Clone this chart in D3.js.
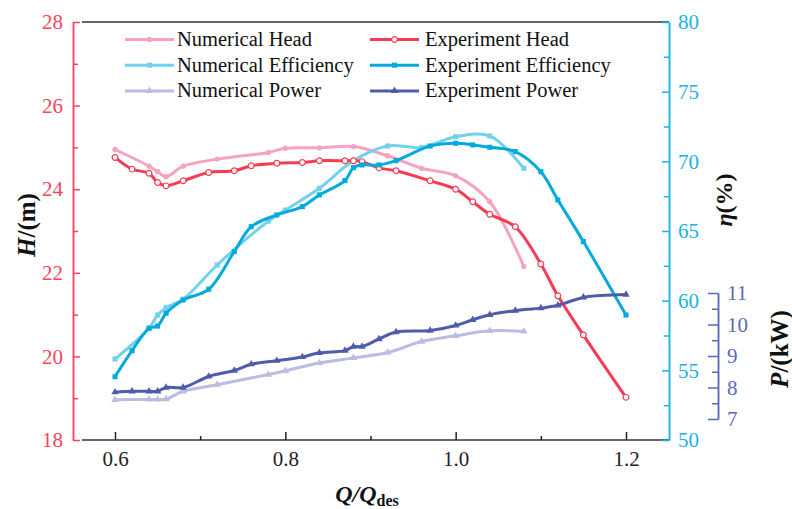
<!DOCTYPE html>
<html>
<head>
<meta charset="utf-8">
<script src="https://cdn.jsdelivr.net/npm/d3@7"></script>
<style>
  body { margin: 0; background: #fff; }
</style>
</head>
<body>
<svg id="chart" width="792" height="509"></svg>
<script>
// flow ratios
const qNum = [0.60, 0.64, 0.65, 0.66, 0.68, 0.72, 0.78, 0.80, 0.84, 0.88, 0.92, 0.96, 1.00, 1.04, 1.08]
const qExp = [0.60, 0.62, 0.64, 0.65, 0.66, 0.68, 0.71, 0.74, 0.76, 0.79, 0.82, 0.84, 0.87, 0.88, 0.89, 0.91, 0.93, 0.97, 1.00, 1.02, 1.04, 1.07, 1.10, 1.12, 1.15, 1.20]

// head (m)
const numHead = [24.95, 24.55, 24.42, 24.30, 24.55, 24.72, 24.88, 24.98, 24.99, 25.02, 24.80, 24.50, 24.32, 23.70, 22.15]
const expHead = [24.76, 24.48, 24.38, 24.16, 24.08, 24.20, 24.40, 24.44, 24.56, 24.62, 24.64, 24.68, 24.68, 24.68, 24.66, 24.51, 24.44, 24.20, 24.00, 23.70, 23.40, 23.10, 22.21, 21.45, 20.51, 19.02]

// efficiency (%)
const numEff = [55.81, 58.02, 58.97, 59.50, 60.10, 62.56, 65.70, 66.50, 68.07, 70.05, 71.10, 71.00, 71.77, 71.82, 69.50]
const expEff = [54.54, 56.41, 58.02, 58.18, 59.10, 60.05, 60.82, 63.52, 65.31, 66.15, 66.75, 67.59, 68.62, 69.55, 69.74, 69.74, 70.05, 71.10, 71.30, 71.18, 71.01, 70.70, 69.26, 67.23, 64.24, 58.97]

// power (kW)
const numPower = [7.61, 7.62, 7.62, 7.63, 7.88, 8.09, 8.41, 8.53, 8.78, 8.94, 9.11, 9.46, 9.64, 9.80, 9.78]
const expPower = [7.85, 7.88, 7.88, 7.88, 8.00, 8.00, 8.35, 8.54, 8.74, 8.85, 8.97, 9.10, 9.17, 9.30, 9.30, 9.54, 9.76, 9.81, 9.97, 10.15, 10.31, 10.44, 10.52, 10.61, 10.86, 10.95]

const xTicks = [0.6, 0.8, 1.0, 1.2]
const xMinor = [0.7, 0.9, 1.1]
const hTicks = [18, 20, 22, 24, 26, 28]
const hMinor = [19, 21, 23, 25, 27]
const effTicks = [50, 55, 60, 65, 70, 75, 80]
const effMinor = [52.5, 57.5, 62.5, 67.5, 72.5, 77.5]
const pTicks = [7, 8, 9, 10, 11]
const pMinor = [7.5, 8.5, 9.5, 10.5]

const RED = '#f5455c', CYAN = '#17b2e6', NAVY = '#5a69bd'
const SERIF = '"Liberation Serif", "Times New Roman", serif'

const svg = d3.select('#chart').attr('font-family', SERIF)

const frameLeft = 82, frameRight = 669, plotTop = 22, plotBottom = 440
const x = d3.scaleLinear().domain([0.6, 1.2]).range([115, 626])
const yH = d3.scaleLinear().domain([18, 28]).range([plotBottom, plotTop])
const yE = d3.scaleLinear().domain([50, 80]).range([plotBottom, plotTop])
const yP = d3.scaleLinear().domain([7, 11]).range([419, 293])

// frame lines
svg.append('line').attr('x1', frameLeft).attr('x2', frameRight).attr('y1', plotTop).attr('y2', plotTop)
  .attr('stroke', '#333').attr('stroke-width', 1.5)
svg.append('line').attr('x1', frameLeft).attr('x2', frameRight).attr('y1', plotBottom).attr('y2', plotBottom)
  .attr('stroke', '#333').attr('stroke-width', 1.5)

function styleAxis(g, color, size) {
  g.attr('font-family', SERIF)
  g.selectAll('path, line').attr('stroke', color).attr('stroke-width', 1.5)
  g.selectAll('text').attr('fill', color).style('font-size', size + 'px').style('font-family', SERIF)
}

// bottom axis
const gx = svg.append('g').attr('transform', `translate(0,${plotBottom})`)
  .call(d3.axisBottom(x).tickValues(xTicks).tickFormat(d3.format('.1f')).tickSize(-8).tickSizeOuter(0).tickPadding(11))
gx.select('.domain').remove()
styleAxis(gx, '#222', 21)
const gxm = svg.append('g').attr('transform', `translate(0,${plotBottom})`)
  .call(d3.axisBottom(x).tickValues(xMinor).tickFormat('').tickSize(-4))
gxm.select('.domain').remove()
styleAxis(gxm, '#222', 21)

// left head axis
const gh = svg.append('g').attr('transform', 'translate(73,0)')
  .call(d3.axisLeft(yH).tickValues(hTicks).tickSize(-7).tickSizeOuter(0).tickPadding(10))
styleAxis(gh, RED, 21)
const ghm = svg.append('g').attr('transform', 'translate(73,0)')
  .call(d3.axisLeft(yH).tickValues(hMinor).tickFormat('').tickSize(-5).tickSizeOuter(0))
styleAxis(ghm, RED, 21)

// right efficiency axis
const ge = svg.append('g').attr('transform', `translate(${frameRight},0)`)
  .call(d3.axisRight(yE).tickValues(effTicks).tickSize(-7).tickSizeOuter(0).tickPadding(9))
styleAxis(ge, CYAN, 21)
const gem = svg.append('g').attr('transform', `translate(${frameRight},0)`)
  .call(d3.axisRight(yE).tickValues(effMinor).tickFormat('').tickSize(-5).tickSizeOuter(0))
styleAxis(gem, CYAN, 21)

// power axis
const gp = svg.append('g').attr('transform', 'translate(718,0)')
  .call(d3.axisRight(yP).tickValues(pTicks).tickFormat(d3.format('d')).tickSize(-10).tickSizeOuter(0).tickPadding(9))
styleAxis(gp, NAVY, 21)
const gpm = svg.append('g').attr('transform', 'translate(718,0)')
  .call(d3.axisRight(yP).tickValues(pMinor).tickFormat('').tickSize(-6).tickSizeOuter(0))
styleAxis(gpm, NAVY, 21)

// axis titles
function title(tx, ty, rot, parts, size) {
  const t = svg.append('text')
    .attr('transform', `translate(${tx},${ty}) rotate(${rot})`)
    .attr('text-anchor', 'middle')
    .style('font-family', SERIF)
    .style('font-size', size + 'px')
    .style('font-weight', 'bold')
    .attr('fill', '#111')
  parts.forEach(p => {
    const sp = t.append('tspan').text(p.t)
    if (p.i) sp.style('font-style', 'italic')
    if (p.sub) sp.style('font-size', '16px').attr('dy', 4)
  })
  return t
}
title(35, 225, -90, [{ t: 'H', i: true }, { t: '/(m)' }], 25)
title(732, 200, -90, [{ t: 'η', i: true }, { t: '(%)' }], 24)
title(788, 349, -90, [{ t: 'P', i: true }, { t: '/(kW)' }], 25)
title(367, 502, 0, [{ t: 'Q/Q', i: true }, { t: 'des', sub: true }], 24)

// series
const series = [
  { name: 'Numerical Head', q: qNum, v: numHead, y: yH, color: '#f7a3c0', symbol: d3.symbolCircle, size: 22, open: false },
  { name: 'Numerical Efficiency', q: qNum, v: numEff, y: yE, color: '#72d2ee', symbol: d3.symbolSquare, size: 26, open: false },
  { name: 'Numerical Power', q: qNum, v: numPower, y: yP, color: '#babce0', symbol: d3.symbolTriangle, size: 24, open: false },
  { name: 'Experiment Head', q: qExp, v: expHead, y: yH, color: '#f63c55', symbol: d3.symbolCircle, size: 26, open: true },
  { name: 'Experiment Efficiency', q: qExp, v: expEff, y: yE, color: '#05aadd', symbol: d3.symbolSquare, size: 26, open: false },
  { name: 'Experiment Power', q: qExp, v: expPower, y: yP, color: '#4f5cab', symbol: d3.symbolTriangle, size: 24, open: false },
]

series.forEach(s => {
  const pts = s.q.map((q, i) => [q, s.v[i]])
  const line = d3.line()
    .x(d => x(d[0]))
    .y(d => s.y(d[1]))
    .curve(d3.curveCatmullRom.alpha(0.5))
  svg.append('path')
    .datum(pts)
    .attr('d', line)
    .attr('fill', 'none')
    .attr('stroke', s.color)
    .attr('stroke-width', 3)
  svg.selectAll(null)
    .data(pts)
    .enter()
    .append('path')
    .attr('d', d3.symbol().type(s.symbol).size(s.size))
    .attr('transform', d => `translate(${x(d[0])},${s.y(d[1])})`)
    .attr('fill', s.open ? '#fff' : s.color)
    .attr('stroke', s.color)
    .attr('stroke-width', s.open ? 1.2 : 0)
})

// legend, two columns of three rows
const legend = svg.append('g')
series.forEach((s, i) => {
  const col = Math.floor(i / 3), row = i % 3
  const lx = col === 0 ? 125 : 370
  const ly = 39.5 + row * 25.7
  const g = legend.append('g').attr('transform', `translate(${lx},${ly})`)
  g.append('line').attr('x1', 0).attr('x2', 49).attr('y1', 0).attr('y2', 0)
    .attr('stroke', s.color).attr('stroke-width', 3)
  g.append('path').attr('d', d3.symbol().type(s.symbol).size(s.size))
    .attr('transform', 'translate(24.5,0)')
    .attr('fill', s.open ? '#fff' : s.color)
    .attr('stroke', s.color)
    .attr('stroke-width', s.open ? 1.2 : 0)
  g.append('text').attr('x', col === 0 ? 52 : 55).attr('y', 6.5)
    .style('font-family', SERIF)
    .style('font-size', '20.5px').attr('fill', '#111')
    .text(s.name)
})
</script>
</body>
</html>
